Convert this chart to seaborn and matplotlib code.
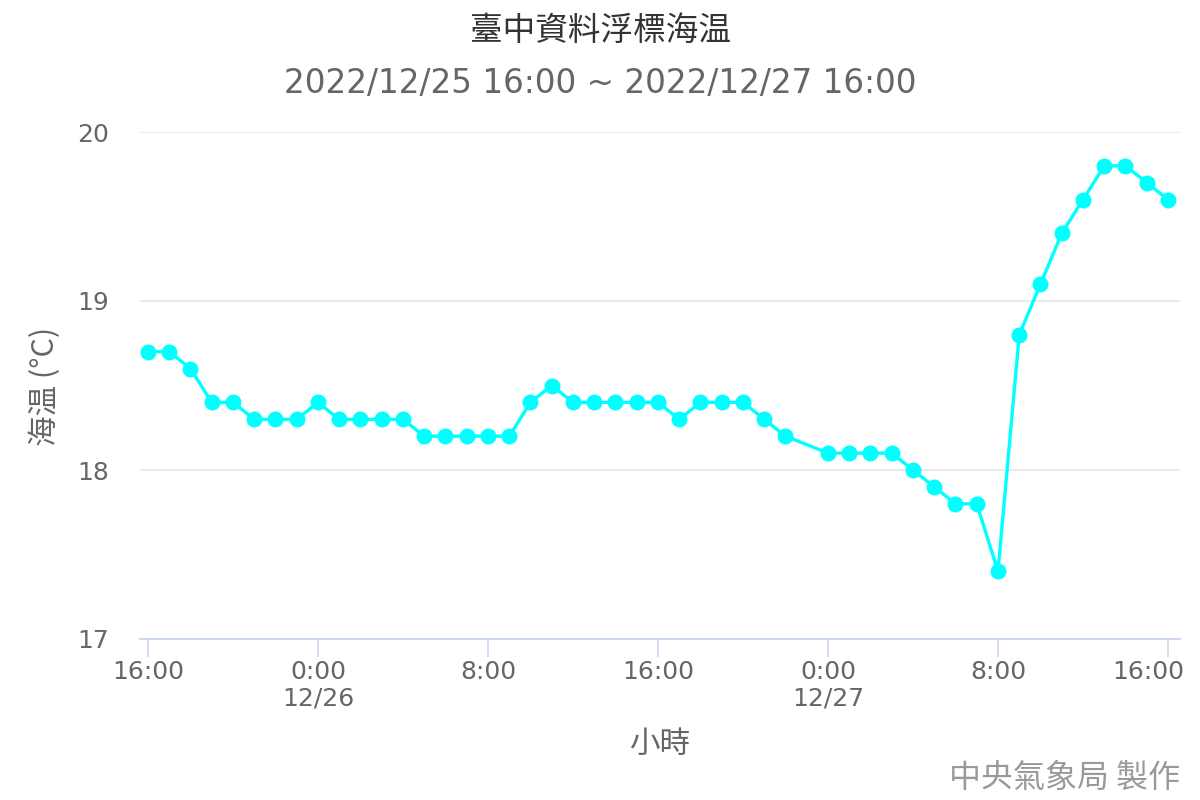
import matplotlib
matplotlib.use("Agg")
from matplotlib import pyplot as plt
from matplotlib.transforms import ScaledTranslation
import matplotlib.dates as mdates
from matplotlib.ticker import FuncFormatter
import pandas as pd
import seaborn as sns

# hourly readings, 12/26 23:00 is missing in the source
times = [
    "2022-12-25 16:00", "2022-12-25 17:00", "2022-12-25 18:00", "2022-12-25 19:00",
    "2022-12-25 20:00", "2022-12-25 21:00", "2022-12-25 22:00", "2022-12-25 23:00",
    "2022-12-26 00:00", "2022-12-26 01:00", "2022-12-26 02:00", "2022-12-26 03:00",
    "2022-12-26 04:00", "2022-12-26 05:00", "2022-12-26 06:00", "2022-12-26 07:00",
    "2022-12-26 08:00", "2022-12-26 09:00", "2022-12-26 10:00", "2022-12-26 11:00",
    "2022-12-26 12:00", "2022-12-26 13:00", "2022-12-26 14:00", "2022-12-26 15:00",
    "2022-12-26 16:00", "2022-12-26 17:00", "2022-12-26 18:00", "2022-12-26 19:00",
    "2022-12-26 20:00", "2022-12-26 21:00", "2022-12-26 22:00",
    "2022-12-27 00:00", "2022-12-27 01:00", "2022-12-27 02:00", "2022-12-27 03:00",
    "2022-12-27 04:00", "2022-12-27 05:00", "2022-12-27 06:00", "2022-12-27 07:00",
    "2022-12-27 08:00", "2022-12-27 09:00", "2022-12-27 10:00", "2022-12-27 11:00",
    "2022-12-27 12:00", "2022-12-27 13:00", "2022-12-27 14:00", "2022-12-27 15:00",
    "2022-12-27 16:00",
]
sea_temp = [
    18.7, 18.7, 18.6, 18.4, 18.4, 18.3, 18.3, 18.3,
    18.4, 18.3, 18.3, 18.3, 18.3, 18.2, 18.2, 18.2,
    18.2, 18.2, 18.4, 18.5, 18.4, 18.4, 18.4, 18.4,
    18.4, 18.3, 18.4, 18.4, 18.4, 18.3, 18.2,
    18.1, 18.1, 18.1, 18.1, 18.0, 17.9, 17.8, 17.8,
    17.4, 18.8, 19.1, 19.4, 19.6, 19.8, 19.8, 19.7,
    19.6,
]
y_ticks = [17, 18, 19, 20]

title = "臺中資料浮標海温"
subtitle = "2022/12/25 16:00 ~ 2022/12/27 16:00"
x_label = "小時"
y_label = "海温 (°C)"
credit = "中央氣象局 製作"

df = pd.DataFrame({"time": pd.to_datetime(times), "temp": sea_temp})

plt.close("all")
sns.set_theme(style="white")
plt.rcParams["font.family"] = ["DejaVu Sans", "Noto Sans CJK TC"]
cjk = ["Noto Sans CJK TC", "DejaVu Sans"]

fig = plt.figure(figsize=(12, 8), dpi=100)
ax = fig.add_axes([140 / 1200, 1 - 639 / 800, 1040 / 1200, (639 - 132) / 800])

sns.lineplot(
    data=df, x="time", y="temp", ax=ax,
    color="#00ffff", linewidth=2.4,
    marker="o", markersize=11.5, markeredgewidth=0,
)

start = df["time"].iloc[0]
end = df["time"].iloc[-1]
ax.set_xlim(start - pd.Timedelta(hours=0.376), end + pd.Timedelta(hours=0.565))
ax.set_ylim(y_ticks[0], y_ticks[-1])
ax.set_yticks(y_ticks)

ax.xaxis.set_major_locator(mdates.HourLocator(byhour=[0, 8, 16]))


def _fmt(x, pos):
    d = mdates.num2date(x)
    s = f"{d.hour}:00"
    if d.hour == 0:
        s += f"\n{d.month}/{d.day}"
    return s


ax.xaxis.set_major_formatter(FuncFormatter(_fmt))

ax.grid(axis="y", color="#e6e6e6", linewidth=1.2)
ax.grid(axis="x", visible=False)
for side in ["left", "right", "top"]:
    ax.spines[side].set_visible(False)
ax.spines["bottom"].set_color("#ccd6eb")
ax.spines["bottom"].set_linewidth(1.5)

ax.tick_params(axis="x", length=13, width=1.2, color="#ccd6eb", pad=2,
               labelsize=18, labelcolor="#666666", bottom=True)
ax.tick_params(axis="y", length=0, pad=22, labelsize=18, labelcolor="#666666")
xlabels = ax.get_xticklabels()
for lab in xlabels:
    lab.set_linespacing(1.15)
# keep the last label inside the figure, like the original
xlabels[-1].set_horizontalalignment("right")
xlabels[-1].set_transform(xlabels[-1].get_transform()
                          + ScaledTranslation(0.16, 0, fig.dpi_scale_trans))

ax.set_xlabel("")
ax.set_ylabel("")

fig.text(0.5, 1 - 31 / 800, title, ha="center", va="center",
         fontsize=23.5, color="#333333", family=cjk)
fig.text(0.5, 1 - 83 / 800, subtitle, ha="center", va="center",
         fontsize=23.5, color="#666666")
fig.text(660 / 1200, 1 - 744 / 800, x_label, ha="center", va="center",
         fontsize=22, color="#666666", family=cjk)
fig.text(45 / 1200, 1 - 386 / 800, y_label, ha="center", va="center",
         rotation=90, fontsize=22, color="#666666", family=cjk)
fig.text(1180 / 1200, 1 - 778 / 800, credit, ha="right", va="center",
         fontsize=23, color="#999999", family=cjk)

plt.savefig("out.png", dpi=100)
